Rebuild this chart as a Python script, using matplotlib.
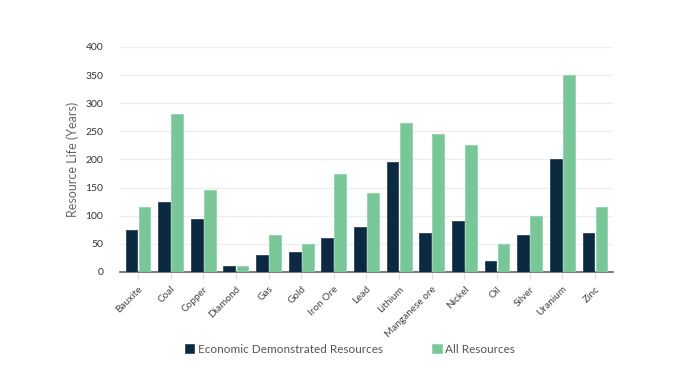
import matplotlib.pyplot as plt
import numpy as np

plt.rcParams['font.family'] = ['Lato', 'DejaVu Sans']

# Data
minerals = ['Bauxite', 'Coal', 'Copper', 'Diamond', 'Gas', 'Gold', 'Iron Ore', 'Lead',
            'Lithium', 'Manganese ore', 'Nickel', 'Oil', 'Silver', 'Uranium', 'Zinc']
economic = [75, 125, 95, 10, 30, 35, 60, 80, 195, 70, 90, 20, 65, 200, 70]
all_res = [115, 280, 145, 10, 65, 50, 175, 140, 265, 245, 225, 50, 100, 350, 115]

dark = '#0b2940'
green = '#79c799'

fig = plt.figure(figsize=(6.78, 3.88), dpi=100)
ax = fig.add_axes([0.177, 0.299, 0.727, 0.580])

x = np.arange(len(minerals))
w = 0.36
ax.bar(x - 0.2, economic, w, color=dark, edgecolor='#2c4458', linewidth=0.6,
       label='Economic Demonstrated Resources', zorder=3)
ax.bar(x + 0.2, all_res, w, color=green, edgecolor='#8fd6ab', linewidth=0.6,
       label='All Resources', zorder=3)

ax.set_xlim(-0.55, len(minerals) - 0.45)
ax.set_ylim(0, 400)
ax.set_yticks(np.arange(0, 401, 50))
ax.yaxis.grid(True, color='#eeeeee', linewidth=0.9, zorder=0)
ax.set_axisbelow(True)

for s in ['top', 'right', 'left']:
    ax.spines[s].set_visible(False)
ax.spines['bottom'].set_color('#666666')
ax.spines['bottom'].set_linewidth(1.2)

ax.set_xticks(x)
ax.set_xticklabels(minerals, rotation=45, ha='right', rotation_mode='anchor',
                   fontsize=7.2, color='#444444')
ax.tick_params(axis='x', length=5, color='#dddddd', pad=4)
ax.tick_params(axis='y', length=0, labelsize=7.5, labelcolor='#333333', pad=12)

ax.set_ylabel('Resource Life (Years)', fontsize=9, color='#666666', labelpad=5)

fig.legend(loc='center', bbox_to_anchor=(0.516, 0.10), ncol=2, frameon=False,
           fontsize=8.5, handlelength=0.8, handleheight=0.8, handletextpad=0.3,
           columnspacing=4.2, labelcolor='#555555')

fig.savefig('out.png', dpi=100)
